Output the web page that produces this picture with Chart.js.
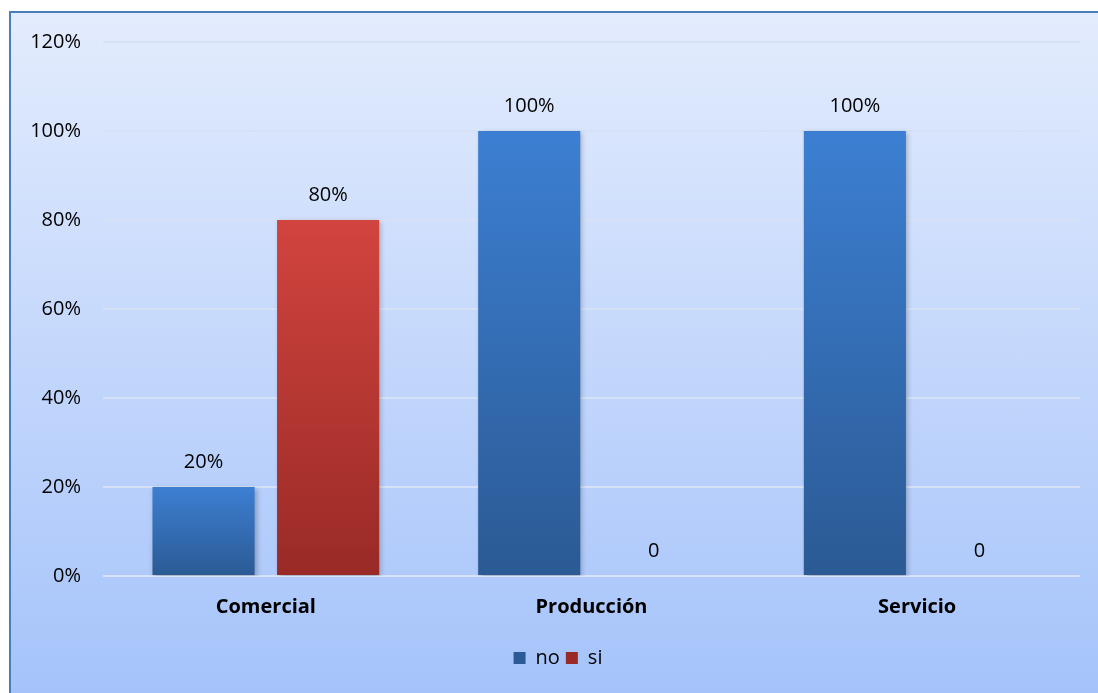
<!DOCTYPE html>
<html>
<head>
<meta charset="utf-8">
<script src="https://cdn.jsdelivr.net/npm/chart.js@4/dist/chart.umd.min.js"></script>
<style>
    body { margin: 0; background: #ffffff; overflow: hidden; }
    #frame {
        position: absolute; left: 9px; top: 11px; width: 1200px; height: 800px;
        border-left: 2px solid #4a7ebb; border-top: 2px solid #4a7ebb;
        background: linear-gradient(to bottom, #e3ecfd 0px, #a5c3fa 682px);
    }
    #wrap { position: absolute; left: 0; top: 0; width: 1098px; height: 693px; }
</style>
</head>
<body>
<div id="frame"></div>
<div id="wrap"><canvas id="chart" width="1098" height="693"></canvas></div>
<script>
// Chart data
const categories = ['Comercial', 'Producción', 'Servicio'];
const noValues = [20, 100, 100];
const siValues = [80, 0, 0];
const yTicks = [0, 20, 40, 60, 80, 100, 120];

// Bar colours (top, bottom of gradient)
const blueTop = '#3c7fd2', blueBottom = '#2b5a94', blueFlat = '#3670b8';
const redTop = '#d2443f', redBottom = '#992a26', redFlat = '#bf3934';

const FONT = "'Open Sans'";

// Per-bar vertical gradient
function barGradient(top, bottom, flat) {
    return function(context) {
        if (context.type !== 'data') return flat;
        const chart = context.chart;
        const y = chart.scales.y;
        if (!y || !chart.chartArea) return flat;
        const yTop = y.getPixelForValue(context.raw);
        const yBase = y.getPixelForValue(0);
        if (yBase - yTop < 1) return flat;
        const g = chart.ctx.createLinearGradient(0, yTop, 0, yBase);
        g.addColorStop(0, top);
        g.addColorStop(1, bottom);
        return g;
    };
}

// Value labels above the bars (+ soft shadow on bars)
const valueLabels = {
    id: 'valueLabels',
    afterLayout(chart) {
        // legend sits a bit right of canvas centre in the original
        chart.legend.left += 18;
        chart.legend.right += 18;
    },
    beforeDatasetsDraw(chart) {
        const ctx = chart.ctx;
        ctx.save();
        ctx.shadowColor = 'rgba(0,0,0,0.25)';
        ctx.shadowBlur = 5;
        ctx.shadowOffsetX = 2;
        ctx.shadowOffsetY = 2;
    },
    afterDatasetsDraw(chart) {
        const ctx = chart.ctx;
        ctx.restore();
        ctx.save();
        ctx.font = '20px ' + FONT;
        ctx.fillStyle = '#000000';
        ctx.textAlign = 'center';
        ctx.textBaseline = 'middle';
        chart.data.datasets.forEach((ds, i) => {
            chart.getDatasetMeta(i).data.forEach((bar, j) => {
                const v = ds.data[j];
                const text = v === 0 ? '0' : v + '%';
                ctx.fillText(text, bar.x, bar.y - 25);
            });
        });
        ctx.restore();
    }
};

new Chart(document.getElementById('chart'), {
    type: 'bar',
    data: {
        labels: categories,
        datasets: [
            { label: 'no', data: noValues, backgroundColor: barGradient(blueTop, blueBottom, blueFlat) },
            { label: 'si', data: siValues, backgroundColor: barGradient(redTop, redBottom, redFlat) }
        ]
    },
    options: {
        responsive: false,
        animation: false,
        categoryPercentage: 0.765,
        barPercentage: 0.82,
        layout: { padding: { top: 42, right: 18, left: 0, bottom: 15 } },
        scales: {
            y: {
                min: 0,
                max: 120,
                afterBuildTicks: (scale) => { scale.ticks = yTicks.map(v => ({ value: v })); },
                afterFit: (scale) => { scale.width = 103; },
                border: { display: false },
                grid: { color: '#d6e1f6', lineWidth: 2, drawTicks: false },
                ticks: {
                    padding: 22,
                    color: '#000000',
                    font: { family: FONT, size: 20 },
                    callback: (v) => v + '%'
                }
            },
            x: {
                border: { display: false },
                grid: { display: false, drawTicks: false },
                afterFit: (scale) => { scale.height = 66; },
                ticks: {
                    padding: 19,
                    color: '#000000',
                    font: { family: FONT, size: 20, weight: 'bold' }
                }
            }
        },
        plugins: {
            legend: {
                position: 'bottom',
                labels: {
                    boxWidth: 12,
                    boxHeight: 12,
                    padding: 6,
                    color: '#000000',
                    font: { family: FONT, size: 20 }
                }
            },
            tooltip: { enabled: false }
        }
    },
    plugins: [valueLabels]
});
</script>
</body>
</html>
